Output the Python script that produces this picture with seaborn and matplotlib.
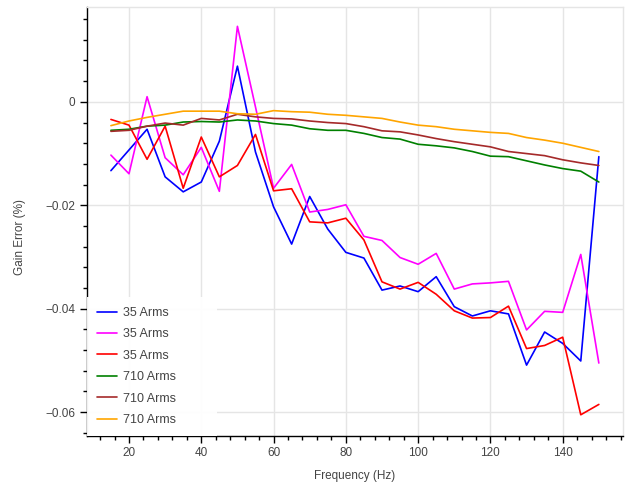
import numpy as np
import pandas as pd
import matplotlib
matplotlib.use("Agg")
import matplotlib.pyplot as plt
import seaborn as sns
from matplotlib.ticker import MultipleLocator, FuncFormatter

# frequencies (Hz)
freq = list(range(15, 151, 5))

# gain error per run
blue_35 = [-0.0133, -0.0093, -0.0053, -0.0145, -0.0174, -0.0155, -0.0076, 0.0069,
           -0.0097, -0.0203, -0.0275, -0.0183, -0.0246, -0.0291, -0.0302, -0.0364,
           -0.0356, -0.0367, -0.0338, -0.0396, -0.0414, -0.0404, -0.0410, -0.0509,
           -0.0445, -0.0467, -0.0501, -0.0106]
magenta_35 = [-0.0103, -0.0139, 0.0010, -0.0108, -0.0141, -0.0088, -0.0173, 0.0146,
              -0.0010, -0.0167, -0.0121, -0.0213, -0.0208, -0.0199, -0.0260, -0.0268,
              -0.0301, -0.0314, -0.0293, -0.0362, -0.0352, -0.0350, -0.0347, -0.0441,
              -0.0405, -0.0407, -0.0295, -0.0505]
red_35 = [-0.0034, -0.0045, -0.0111, -0.0047, -0.0167, -0.0068, -0.0145, -0.0123,
          -0.0063, -0.0172, -0.0168, -0.0232, -0.0234, -0.0225, -0.0267, -0.0348,
          -0.0362, -0.0349, -0.0372, -0.0404, -0.0418, -0.0417, -0.0395, -0.0477,
          -0.0471, -0.0455, -0.0605, -0.0585]
green_710 = [-0.0055, -0.0053, -0.0047, -0.0045, -0.0039, -0.0038, -0.0039, -0.0035,
             -0.0037, -0.0042, -0.0045, -0.0052, -0.0055, -0.0055, -0.0061, -0.0069,
             -0.0072, -0.0082, -0.0085, -0.0089, -0.0096, -0.0105, -0.0106, -0.0114,
             -0.0122, -0.0129, -0.0134, -0.0155]
brown_710 = [-0.0057, -0.0055, -0.0047, -0.0041, -0.0045, -0.0032, -0.0035, -0.0024,
             -0.0029, -0.0032, -0.0033, -0.0037, -0.0040, -0.0042, -0.0048, -0.0056,
             -0.0058, -0.0064, -0.0071, -0.0077, -0.0082, -0.0087, -0.0096, -0.0100,
             -0.0104, -0.0112, -0.0118, -0.0123]
orange_710 = [-0.0046, -0.0037, -0.0030, -0.0024, -0.0018, -0.0018, -0.0018, -0.0023,
              -0.0024, -0.0017, -0.0019, -0.0020, -0.0024, -0.0026, -0.0029, -0.0032,
              -0.0039, -0.0045, -0.0048, -0.0053, -0.0056, -0.0059, -0.0061, -0.0069,
              -0.0074, -0.0080, -0.0088, -0.0096]

series = [
    ("35 Arms", blue_35, "#0000ff"),
    ("35 Arms", magenta_35, "#ff00ff"),
    ("35 Arms", red_35, "#ff0000"),
    ("710 Arms", green_710, "#008000"),
    ("710 Arms", brown_710, "#a52a2a"),
    ("710 Arms", orange_710, "#ffa500"),
]

sns.set_theme(style="white")
plt.rcParams["font.family"] = ["Liberation Sans", "DejaVu Sans"]

fig = plt.figure(figsize=(6.27, 4.88), dpi=100)
ax = fig.add_axes([0.138, 0.1066, 0.856, 0.8797])

for label, vals, col in series:
    sns.lineplot(x=freq, y=vals, color=col, label=label, linewidth=1.2, ax=ax)

ax.set_xlim(8.25, 156.75)
ax.set_ylim(-0.0646, 0.0184)

ax.xaxis.set_major_locator(MultipleLocator(20))
ax.xaxis.set_minor_locator(MultipleLocator(4))
ax.yaxis.set_major_locator(MultipleLocator(0.02))
ax.yaxis.set_minor_locator(MultipleLocator(0.004))

def fmt_y(v, pos):
    if abs(v) < 1e-9:
        return "0"
    return f"{v:.2f}".replace("-", "\u2212")

ax.yaxis.set_major_formatter(FuncFormatter(fmt_y))

ax.grid(True, which="major", color="#e5e5e5", linewidth=1)
ax.set_axisbelow(True)

for side in ["top", "right"]:
    ax.spines[side].set_color("#e5e5e5")
    ax.spines[side].set_linewidth(1)
for side in ["left", "bottom"]:
    ax.spines[side].set_color("black")
    ax.spines[side].set_linewidth(1)

ax.tick_params(which="major", direction="out", length=5, width=1, color="black",
               labelsize=8.5, labelcolor="#444444", left=True, bottom=True, pad=3)
ax.tick_params(which="minor", direction="out", length=3, width=1, color="black",
               left=True, bottom=True)

ax.set_xlabel("Frequency (Hz)", fontsize=8.5, color="#444444", labelpad=8)
ax.set_ylabel("Gain Error (%)", fontsize=8.5, color="#444444")
ax.yaxis.set_label_coords(-0.112, 0.464)

leg = ax.legend(loc="lower left", bbox_to_anchor=(0, 0, 0.2425, 1), mode="expand",
                frameon=True, fontsize=9, borderaxespad=0,
                handlelength=1.6, handletextpad=0.5, labelspacing=0.75,
                borderpad=0.8, labelcolor="#444444")
leg.get_frame().set_edgecolor("none")
leg.get_frame().set_facecolor("white")
leg.get_frame().set_alpha(0.95)
leg.get_frame().set_boxstyle("square", pad=0)

fig.savefig("out.png", dpi=100)
